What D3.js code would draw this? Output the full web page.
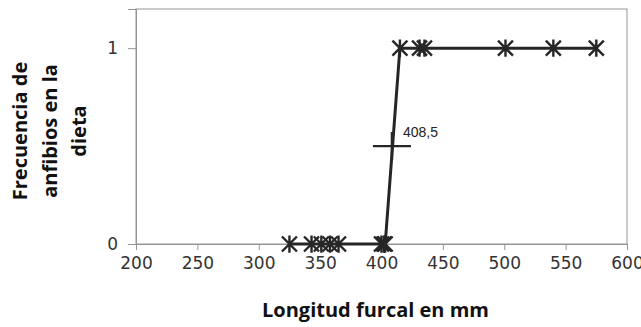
<!DOCTYPE html>
<html>
<head>
<meta charset="utf-8">
<script src="https://cdn.jsdelivr.net/npm/d3@7"></script>
<style>
  body { margin: 0; background: #fff; }
  svg { display: block; }
</style>
</head>
<body>
<svg id="chart" width="641" height="327"></svg>
<script>
// data
const lengths = [325, 343, 351, 358, 365, 400, 402, 403, 415, 431, 435, 501, 540, 575];
const freq = [0, 0, 0, 0, 0, 0, 0, 0, 1, 1, 1, 1, 1, 1];
const xTicks = [200, 250, 300, 350, 400, 450, 500, 550, 600];
const yTicks = [0, 1];
const midPoint = { x: 408.5, y: 0.5, label: '408,5' };
const xTitle = 'Longitud furcal en mm';
const yTitle = ['Frecuencia de', 'anfibios en la', 'dieta'];

const svg = d3.select('#chart');
const plotL = 136, plotR = 627, plotT = 9, plotB = 244;

const x = d3.scaleLinear().domain([200, 600]).range([plotL, plotR]);
const y = d3.scaleLinear().domain([0, 1.2]).range([plotB, plotT]);

const gray = '#959595';
const ink = '#262626';
const tickFont = 'DejaVu Sans, sans-serif';

// plot frame
svg.append('rect')
  .attr('x', plotL).attr('y', plotT)
  .attr('width', plotR - plotL).attr('height', plotB - plotT)
  .attr('fill', 'none').attr('stroke', gray).attr('stroke-width', 1);

// x axis
const xAxis = svg.append('g')
  .attr('transform', `translate(0,${plotB})`)
  .call(d3.axisBottom(x).tickValues(xTicks).tickSize(6).tickPadding(7));
xAxis.select('.domain').attr('stroke', gray);
xAxis.selectAll('.tick line').attr('stroke', gray);
xAxis.selectAll('.tick text')
  .attr('font-family', tickFont)
  .attr('font-size', 17).attr('fill', '#333');

// y axis
const yAxis = svg.append('g')
  .attr('transform', `translate(${plotL},0)`)
  .call(d3.axisLeft(y).tickValues(yTicks).tickFormat(d3.format('d')).tickSize(8).tickPadding(10));
yAxis.select('.domain').attr('stroke', gray);
yAxis.selectAll('.tick line').attr('stroke', gray);
yAxis.selectAll('.tick text')
  .attr('font-family', tickFont)
  .attr('font-size', 17).attr('fill', '#333');

const pts = lengths.map((d, i) => ({ x: d, y: freq[i] }));

// connecting line
svg.append('path')
  .datum(pts)
  .attr('fill', 'none')
  .attr('stroke', ink)
  .attr('stroke-width', 3)
  .attr('d', d3.line().x(d => x(d.x)).y(d => y(d.y)));

// asterisk markers
const r = 7.5;
const star = `M${-r},${-r}L${r},${r}M${-r},${r}L${r},${-r}M0,${-r * 1.15}L0,${r * 1.15}`;
svg.append('g')
  .selectAll('path.pt')
  .data(pts)
  .enter()
  .append('path')
  .attr('class', 'pt')
  .attr('transform', d => `translate(${x(d.x)},${y(d.y)})`)
  .attr('d', star)
  .attr('fill', 'none')
  .attr('stroke', ink)
  .attr('stroke-width', 2.4);

// 50% point
const mp = svg.append('g')
  .attr('transform', `translate(${x(midPoint.x)},${y(midPoint.y)})`);
mp.append('path')
  .attr('d', 'M-19,0L19,0M0,-14L0,14')
  .attr('stroke', ink).attr('stroke-width', 2.4);
svg.append('text')
  .attr('x', x(midPoint.x) + 11)
  .attr('y', y(midPoint.y) - 9)
  .attr('font-family', 'Liberation Sans, Arial, sans-serif')
  .attr('font-size', 14)
  .attr('fill', '#222')
  .text(midPoint.label);

// axis titles
svg.append('text')
  .attr('x', (plotL + plotR) / 2 - 6)
  .attr('y', 317)
  .attr('text-anchor', 'middle')
  .attr('font-family', 'Open Sans, sans-serif')
  .attr('font-weight', 'bold')
  .attr('font-size', 20)
  .attr('fill', '#111')
  .text(xTitle);

const yt = svg.append('text')
  .attr('transform', 'translate(27,131) rotate(-90)')
  .attr('text-anchor', 'middle')
  .attr('font-family', 'Open Sans, sans-serif')
  .attr('font-weight', 'bold')
  .attr('font-size', 20)
  .attr('fill', '#111');
yt.selectAll('tspan')
  .data(yTitle)
  .enter()
  .append('tspan')
  .attr('x', 0)
  .attr('dy', (d, i) => (i === 0 ? 0 : 29.5))
  .text(d => d);
</script>
</body>
</html>
